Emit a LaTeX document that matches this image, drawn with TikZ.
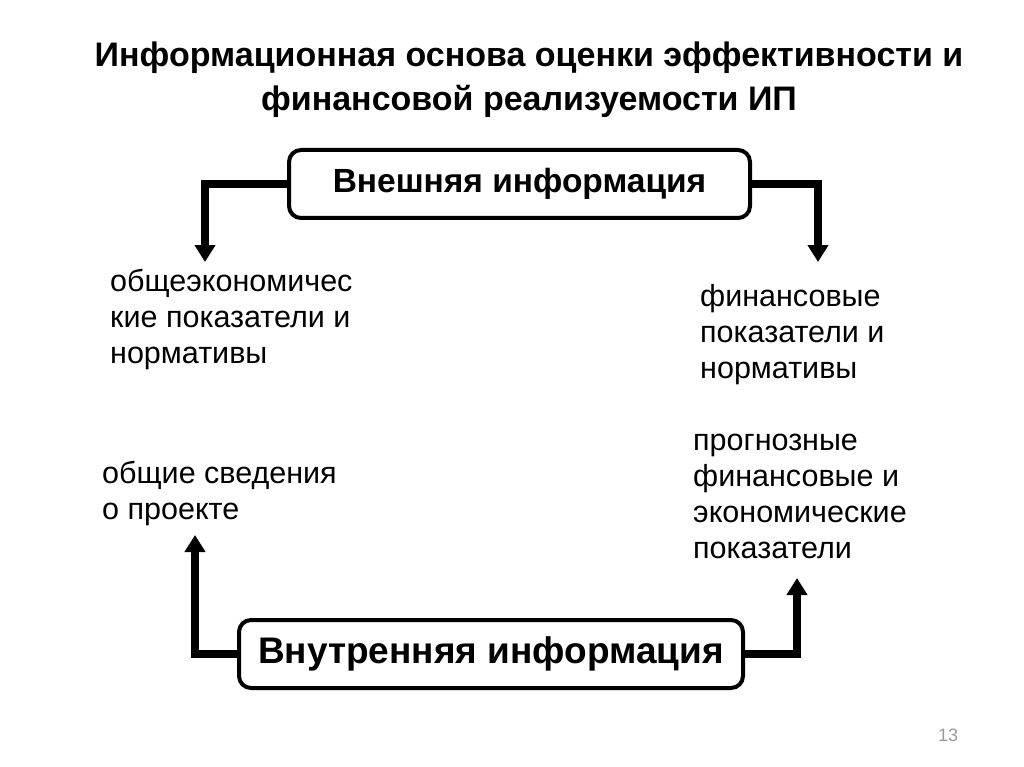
\documentclass[tikz,border=0pt]{standalone}
\usepackage{fontspec}
\setmainfont{Liberation Sans}
\usetikzlibrary{arrows.meta,positioning}
\definecolor{pagegray}{HTML}{9A9A9A}

\begin{document}
\begin{tikzpicture}[
  x=1pt, y=-1pt,
  heading/.style={align=center, font=\bfseries\fontsize{34}{44}\selectfont},
  infobox/.style={draw, line width=4pt, rounded corners=12pt, minimum height=68pt, inner sep=0pt},
  itemtext/.style={anchor=north west, align=left, inner sep=0pt, font=\fontsize{30.5}{36}\selectfont},
  flow/.style={-{Triangle[length=17pt,width=20pt]}, line width=8pt}
]
\useasboundingbox (0,0) rectangle (1024,767);

\node[heading] (title) at (529,80) {Информационная основа оценки эффективности и\\финансовой реализуемости ИП};

\node[infobox, minimum width=461pt, font=\bfseries\fontsize{33.5}{40}\selectfont] (ext) at (519.5,184) {Внешняя информация};
\node[infobox, minimum width=504pt, font=\bfseries\fontsize{37}{44}\selectfont] (int) at (491,654) {Внутренняя информация};

\node[itemtext] (gen) at (110,266.5) {\strut общеэкономичес\\кие показатели и\\нормативы};
\node[itemtext] (fin) at (700,281.5) {\strut финансовые\\показатели и\\нормативы};
\node[itemtext] (about) at (102,458.5) {\strut общие сведения\\о проекте};
\node[itemtext] (fcst) at (693,425.5) {\strut прогнозные\\финансовые и\\экономические\\показатели};

% arrow ends
\coordinate (genTip) at (205,262);
\coordinate (finTip) at (818,262);
\coordinate (aboutTip) at (195,535);
\coordinate (fcstTip) at (797,578);

\draw[flow] (ext.west) -| (genTip);
\draw[flow] (ext.east) -| (finTip);
\draw[flow] (int.west) -| (aboutTip);
\draw[flow] (int.east) -| (fcstTip);

\node[text=pagegray, font=\fontsize{18}{20}\selectfont] (page) at (948,735) {13};
\end{tikzpicture}
\end{document}
